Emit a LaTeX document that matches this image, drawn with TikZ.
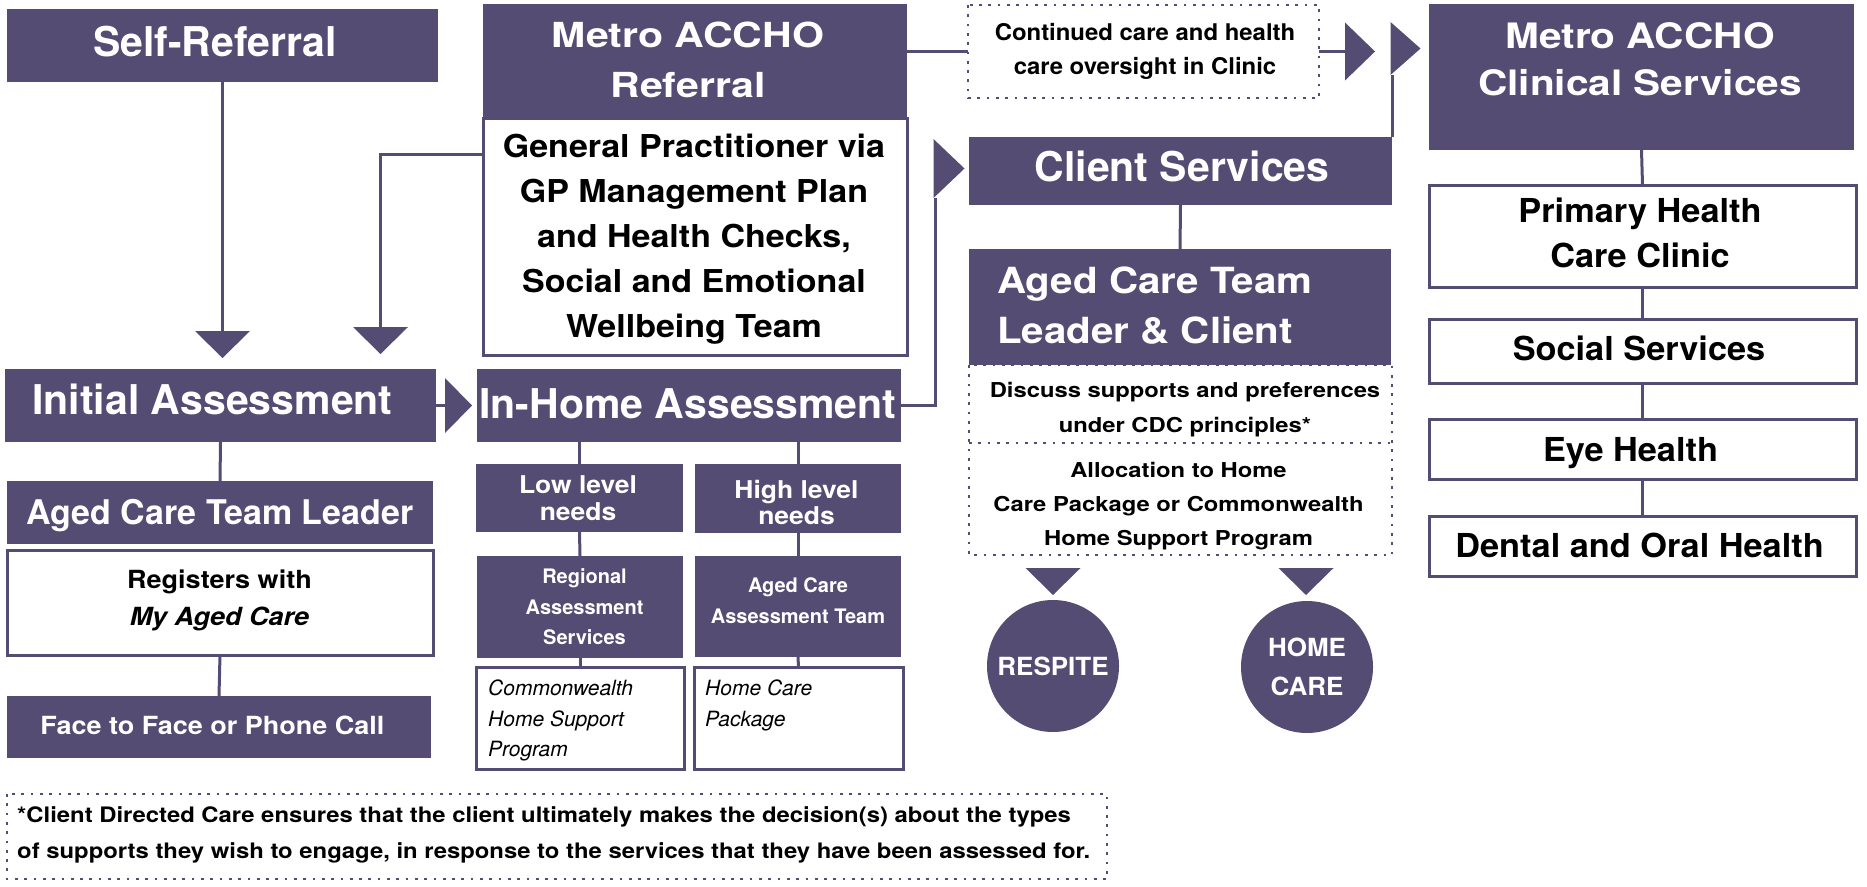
\documentclass[tikz,border=0pt]{standalone}
\usepackage{fontspec}
\setmainfont{TeX Gyre Heros}
\newfontfamily\stA[FakeStretch=1.04]{TeX Gyre Heros}
\newfontfamily\stB[FakeStretch=1.08]{TeX Gyre Heros}
\newfontfamily\stC[FakeStretch=1.12]{TeX Gyre Heros}
\newfontfamily\stD[FakeStretch=1.16]{TeX Gyre Heros}
\newfontfamily\stE[FakeStretch=1.19]{TeX Gyre Heros}
\definecolor{pur}{HTML}{554C73}
\newcommand\fsz[2]{\fontsize{#1}{#2}\selectfont}
\newcommand\tridn[1]{\fill[pur] ([xshift=-27.5pt]#1) -- ([xshift=27.5pt]#1) -- ([yshift=-27pt]#1) -- cycle;}
\newcommand\trirt[3]{\fill[pur] ([yshift=#2pt]#1) -- ([yshift=-#2pt]#1) -- ([xshift=#3pt]#1) -- cycle;}
\tikzset{
 pbox/.style={fill=pur, draw=none, inner sep=0pt, outer sep=0pt, anchor=north west},
 wbox/.style={fill=white, draw=pur, line width=3pt, inner sep=0pt, outer sep=0pt, anchor=north west},
 nbox/.style={draw=none, inner sep=0pt, outer sep=0pt, anchor=north west},
 dotline/.style={draw=pur, line width=2.7pt, dash pattern=on 2.7pt off 6.6pt},
 wt/.style={text=white, inner sep=0pt, align=center, anchor=north},
 bt/.style={text=black, inner sep=0pt, align=center, anchor=north},
 conn/.style={draw=pur, line width=3pt},
}
\begin{document}
\begin{tikzpicture}[x=1pt,y=-1pt]
\useasboundingbox (0,0) rectangle (1867,886);

% ---------- left column ----------
\node[pbox,minimum width=431pt,minimum height=73pt] (sr) at (7,9) {};
\node[wt,font=\bfseries\fsz{41}{49}] (srT) at (215,25.5) {Self-Referral};

\node[pbox,minimum width=431pt,minimum height=73pt] (ia) at (5,369) {};
\node[wt,font=\bfseries\fsz{41}{49}] (iaT) at (212.5,383.5) {Initial Assessment};

\node[pbox,minimum width=426pt,minimum height=63pt] (actll) at (7,481) {};
\node[wt,font=\bfseries\fsz{34}{40}] (actllT) at (220,499.5) {Aged Care Team Leader};

\node[wbox,minimum width=426pt,minimum height=105pt] (reg) at (7,550) {};
\node[bt,font=\stB\bfseries\fsz{25}{37}] (regT) at (219.5,570) {Registers with\\\textit{My Aged Care}};

\node[pbox,minimum width=424pt,minimum height=62pt] (f2f) at (7,696) {};
\node[wt,font=\stB\bfseries\fsz{25}{30}] (f2fT) at (212.5,716) {Face to Face or Phone Call};

% ---------- Metro ACCHO referral ----------
\node[wbox,minimum width=424pt,minimum height=237pt] (gp) at (483,118) {};
\node[pbox,minimum width=424pt,minimum height=114pt] (mr) at (483,4) {};
\node[wt,font=\stE\bfseries\fsz{34.5}{50}] (mrT) at (688,22.2) {Metro ACCHO\\Referral};
\node[bt,font=\stB\bfseries\fsz{31.5}{45}] (gpT) at (694,134.3) {General Practitioner via\\GP Management Plan\\and Health Checks,\\Social and Emotional\\Wellbeing Team};

% ---------- In-home assessment ----------
\node[pbox,minimum width=424pt,minimum height=73pt] (ih) at (477,369) {};
\node[wt,font=\bfseries\fsz{41}{49}] (ihT) at (688,388.5) {In-Home Assessment};

\node[pbox,minimum width=207pt,minimum height=68pt] (low) at (476,464) {};
\node[wt,font=\stB\bfseries\fsz{24.5}{27}] (lowT) at (578,475.4) {Low level\\needs};
\node[pbox,minimum width=206pt,minimum height=69pt] (high) at (695,464) {};
\node[wt,font=\stB\bfseries\fsz{24.5}{26}] (highT) at (796.5,480.4) {High level\\needs};

\node[pbox,minimum width=206pt,minimum height=102pt] (ras) at (477,556) {};
\node[wt,font=\bfseries\fsz{20}{30.5}] (rasT) at (584.5,568.6) {Regional\\Assessment\\Services};
\node[pbox,minimum width=206pt,minimum height=101pt] (acat) at (695,556) {};
\node[wt,font=\bfseries\fsz{20}{31}] (acatT) at (798,577.6) {Aged Care\\Assessment Team};

\node[wbox,minimum width=208pt,minimum height=102pt] (cw) at (476,667) {};
\node[bt,align=left,anchor=north west,font=\itshape\fsz{21}{30.5}] (cwT) at (488,679.9) {Commonwealth\\Home Support\\Program};
\node[wbox,minimum width=209pt,minimum height=102pt] (hcp) at (694,667) {};
\node[bt,align=left,anchor=north west,font=\itshape\fsz{21}{30.5}] (hcpT) at (705,679.9) {Home Care\\Package};

% ---------- middle column ----------
\node[nbox,minimum width=351pt,minimum height=93pt] (cont) at (968,5) {};
\draw[dotline] (cont.north west) rectangle (cont.south east);
\node[bt,font=\stA\bfseries\fsz{23}{34}] (contT) at (1145,23.4) {Continued care and health\\care oversight in Clinic};

\node[pbox,minimum width=423pt,minimum height=68pt] (cs) at (969,137) {};
\node[wt,font=\bfseries\fsz{41}{49}] (csT) at (1182,150.5) {Client Services};

\node[pbox,minimum width=422pt,minimum height=116pt] (actl) at (969,249) {};
\node[wt,align=left,anchor=north west,font=\stC\bfseries\fsz{36}{50}] (actlT) at (997,267.1) {Aged Care Team\\Leader \& Client};

\node[nbox,minimum width=423pt,minimum height=78pt] (disc) at (969,365) {};
\node[nbox,minimum width=423pt,minimum height=112pt] (alloc) at (969,443) {};
\draw[dotline] (disc.north west) rectangle (alloc.south east);
\draw[dotline] (disc.south west) -- (disc.south east);
\node[bt,font=\stD\bfseries\fsz{20.5}{35}] (discT) at (1185,382.2) {Discuss supports and preferences\\under CDC principles*};
\node[bt,font=\stD\bfseries\fsz{20.5}{34}] (allocT) at (1178.5,462.2) {Allocation to Home\\Care Package or Commonwealth\\Home Support Program};

\node[circle,fill=pur,minimum size=132pt,inner sep=0pt,text=white,align=center,font=\stA\bfseries\fsz{25}{39}] (rsp) at (1053,666) {RESPITE};
\node[circle,fill=pur,minimum size=132pt,inner sep=0pt,text=white,align=center,font=\stA\bfseries\fsz{25}{39}] (hc) at (1307,667) {HOME\\CARE};

% ---------- right column ----------
\node[pbox,minimum width=425pt,minimum height=146pt] (mcs) at (1429,4) {};
\node[wt,font=\stD\bfseries\fsz{35}{47}] (mcsT) at (1640,22.8) {Metro ACCHO\\Clinical Services};

\node[wbox,minimum width=427pt,minimum height=102pt] (phc) at (1429,185) {};
\node[bt,font=\stA\bfseries\fsz{33}{45}] (phcT) at (1640,198.2) {Primary Health\\Care Clinic};
\node[wbox,minimum width=427pt,minimum height=64pt] (ss) at (1429,319) {};
\node[bt,font=\stA\bfseries\fsz{33}{45}] (ssT) at (1639,336.2) {Social Services};
\node[wbox,minimum width=427pt,minimum height=60pt] (eye) at (1429,419) {};
\node[bt,font=\stA\bfseries\fsz{33}{45}] (eyeT) at (1630.5,437.2) {Eye Health};
\node[wbox,minimum width=427pt,minimum height=60pt] (den) at (1429,516) {};
\node[bt,font=\stA\bfseries\fsz{33}{45}] (denT) at (1639.5,533.2) {Dental and Oral Health};

% ---------- footnote ----------
\node[nbox,minimum width=1100pt,minimum height=85pt] (foot) at (7,794) {};
\draw[dotline] (foot.north west) rectangle (foot.south east);
\node[bt,align=left,anchor=north west,font=\stC\bfseries\fsz{21.3}{36}] (footT) at (17,806.7) {*Client Directed Care ensures that the client ultimately makes the decision(s) about the types\\of supports they wish to engage, in response to the services that they have been assessed for.};

% ---------- connectors ----------
\coordinate (a1) at (222.5,331);
\draw[conn] (sr.south) -- (a1); \tridn{a1}
\coordinate (a2) at (380.5,327);
\draw[conn] ([yshift=-36pt]gp.north west) -| (a2); \tridn{a2}
\draw[conn] (cont.west -| mr.east) -- (cont.west);
\coordinate (a4) at (1345,51.5);
\draw[conn] (cont.east) -- (a4); \trirt{a4}{29}{30}
\coordinate (a5) at (1392,75);
\draw[conn] (cs.north east) -- (a5);
\fill[pur] ([xshift=-1.5pt]a5) -- ([xshift=-1.5pt,yshift=53pt]a5) -- ([xshift=28.5pt,yshift=26.5pt]a5) -- cycle;
\coordinate (a6) at (935,198);
\draw[conn] (ih.east) -| (a6);
\fill[pur] ([xshift=-1.5pt]a6) -- ([xshift=-1.5pt,yshift=59pt]a6) -- ([xshift=29.5pt,yshift=29.5pt]a6) -- cycle;
\coordinate (a7) at (445,405.5);
\draw[conn] (ia.east) -- (a7); \trirt{a7}{27.5}{27}
\draw[conn] (ia.south) -- (actll.north);
\draw[conn] (reg.south) -- (f2f.north);
\draw[conn] (ih.south -| low.north) -- (low.north);
\draw[conn] (ih.south -| high.north) -- (high.north);
\draw[conn] (low.south) -- (ras.north);
\draw[conn] (high.south) -- (acat.north);
\draw[conn] (ras.south) -- (cw.north);
\draw[conn] (acat.south) -- (hcp.north);
\draw[conn] (cs.south) -- (actl.north);
\coordinate (a8) at (1053,568); \tridn{a8}
\coordinate (a9) at (1306,568); \tridn{a9}
\draw[conn] (mcs.south) -- (phc.north);
\draw[conn] (phc.south) -- (ss.north);
\draw[conn] (ss.south) -- (eye.north);
\draw[conn] (eye.south) -- (den.north);
\end{tikzpicture}
\end{document}
